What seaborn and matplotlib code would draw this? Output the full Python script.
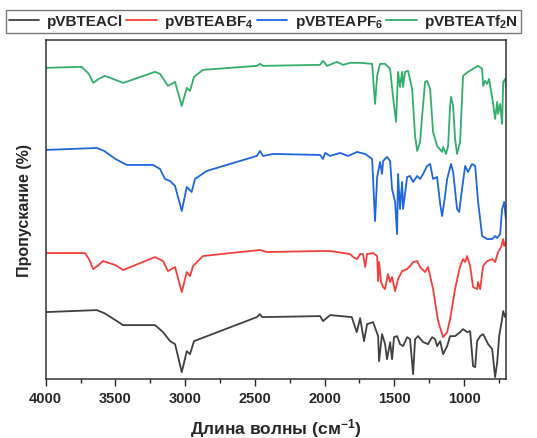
"""FTIR spectra of pVBTEA polymers with different anions (stacked, offset)."""

import matplotlib

matplotlib.use("Agg")
import matplotlib.pyplot as plt
import pandas as pd
import seaborn as sns
from matplotlib.ticker import MultipleLocator

# Wavenumber (cm-1) / transmittance (a.u., offset for stacking)
CL_WN = [4000, 3634, 3580, 3500, 3445, 3216, 3158, 3108, 3072, 3024, 2988, 2965, 2936,
         2486, 2463, 2448, 2032, 2011, 1960, 1805, 1769, 1745, 1717, 1695, 1652, 1616,
         1609, 1588, 1566, 1552, 1530, 1516, 1502, 1480, 1459, 1437, 1408, 1387, 1365,
         1351, 1329, 1293, 1258, 1229, 1207, 1193, 1171, 1150, 1121, 1100, 1064, 1028,
         1007, 978, 956, 935, 920, 906, 884, 863, 827, 798, 777, 762, 748, 727, 719,
         705, 700]
CL_T = [67, 69, 66, 59, 54, 54, 47, 38, 35, 7, 28, 25, 38,
        62, 65, 62, 63, 58, 64, 62, 47, 61, 38, 55, 57, 43,
        18, 45, 35, 20, 37, 20, 42, 43, 35, 33, 42, 40, 5,
        40, 43, 37, 35, 42, 40, 33, 38, 25, 33, 43, 43, 47,
        50, 47, 48, 13, 12, 38, 43, 45, 35, 30, 2, 17, 43, 60, 68,
        62, 65]

BF4_WN = [4000, 3718, 3690, 3659, 3620, 3589, 3500, 3445, 3216, 3158, 3123, 3072, 3024,
          2988, 2965, 2943, 2872, 2606, 2463, 2412, 2032, 1960, 1817, 1795, 1767, 1745,
          1724, 1709, 1695, 1652, 1623, 1616, 1609, 1595, 1580, 1566, 1545, 1530, 1516,
          1494, 1473, 1444, 1408, 1387, 1365, 1336, 1315, 1279, 1258, 1243, 1222, 1186,
          1150, 1121, 1100, 1064, 1028, 1007, 992, 978, 956, 935, 906, 899, 884, 863,
          834, 798, 777, 755, 734, 719, 712, 700]
BF4_T = [126, 126, 120, 110, 114, 118, 114, 109, 122, 118, 108, 112, 87,
         107, 103, 113, 123, 127, 129, 127, 128, 128, 125, 122, 120, 125,
         125, 112, 125, 126, 123, 98, 117, 97, 92, 90, 105, 97, 102,
         88, 100, 108, 110, 113, 117, 118, 112, 107, 112, 103, 90, 58,
         42, 47, 60, 90, 113, 120, 117, 123, 113, 92, 90, 97, 90, 113,
         118, 120, 117, 127, 132, 140, 133, 137]

PF6_WN = [4000, 3634, 3580, 3500, 3419, 3230, 3180, 3144, 3108, 3072, 3024, 2988, 2953,
          2929, 2845, 2486, 2463, 2441, 2369, 2032, 2011, 1996, 1960, 1889, 1831, 1767,
          1709, 1659, 1638, 1623, 1602, 1588, 1580, 1552, 1530, 1516, 1494, 1480, 1473,
          1459, 1444, 1437, 1408, 1387, 1365, 1336, 1315, 1293, 1265, 1243, 1222, 1193,
          1171, 1157, 1136, 1121, 1093, 1078, 1050, 1035, 1014, 992, 971, 942, 920, 899,
          870, 834, 798, 777, 762, 741, 727, 712, 700]
PF6_T = [229, 231, 228, 220, 214, 214, 210, 200, 198, 193, 168, 192, 187,
         200, 208, 223, 228, 223, 225, 224, 220, 226, 223, 226, 223, 227,
         225, 220, 158, 202, 217, 205, 218, 222, 218, 190, 177, 145, 205,
         170, 197, 170, 202, 203, 197, 203, 200, 205, 213, 215, 200, 202,
         175, 163, 183, 200, 215, 207, 170, 167, 190, 213, 207, 215, 213, 177,
         143, 140, 140, 143, 141, 145, 170, 177, 160]

TF2N_WN = [4000, 3742, 3690, 3659, 3620, 3575, 3500, 3443, 3216, 3180, 3123, 3072, 3024,
           2988, 2965, 2936, 2872, 2486, 2463, 2441, 2032, 2011, 1982, 1910, 1867, 1817,
           1745, 1659, 1638, 1623, 1602, 1566, 1530, 1509, 1487, 1473, 1459, 1444, 1437,
           1423, 1401, 1372, 1351, 1336, 1315, 1301, 1279, 1265, 1243, 1222, 1193, 1157,
           1150, 1129, 1114, 1100, 1093, 1078, 1064, 1050, 1028, 1007, 971, 935, 899, 870,
           863, 849, 834, 820, 791, 777, 762, 755, 741, 727, 719, 705, 700]
TF2N_T = [311, 312, 305, 296, 300, 303, 299, 296, 307, 305, 293, 297, 273,
          291, 288, 302, 309, 313, 315, 313, 314, 318, 313, 317, 314, 316,
          316, 315, 275, 303, 315, 315, 310, 282, 257, 307, 292, 307, 292,
          307, 308, 290, 243, 228, 237, 262, 297, 298, 290, 247, 233, 227,
          232, 225, 233, 273, 282, 273, 240, 225, 237, 303, 307, 310, 313, 310,
          293, 298, 295, 300, 275, 260, 277, 265, 275, 255, 297, 300, 293]

SERIES = [
    ("pVBTEACl", CL_WN, CL_T),
    (r"pVBTEABF$_\mathbf{4}$", BF4_WN, BF4_T),
    (r"pVBTEAPF$_\mathbf{6}$", PF6_WN, PF6_T),
    (r"pVBTEATf$_\mathbf{2}$N", TF2N_WN, TF2N_T),
]
COLORS = ["#404040", "#f53d3d", "#1f66dd", "#33ad6b"]


def main():
    sns.set_style("ticks")
    plt.rcParams["font.family"] = ["Liberation Sans", "DejaVu Sans"]
    plt.rcParams["font.weight"] = "bold"
    plt.rcParams["mathtext.fontset"] = "custom"
    plt.rcParams["mathtext.rm"] = "Liberation Sans:bold"
    plt.rcParams["mathtext.bf"] = "Liberation Sans:bold"
    plt.rcParams["mathtext.default"] = "bf"

    frames = []
    for name, wn, t in SERIES:
        frames.append(pd.DataFrame({"wn": wn, "t": t, "sample": name}))
    df = pd.concat(frames, ignore_index=True)

    fig = plt.figure(figsize=(5.37, 4.39), dpi=100)
    ax = fig.add_axes([0.085, 0.134, 0.857, 0.773])

    sns.lineplot(
        data=df,
        x="wn",
        y="t",
        hue="sample",
        palette=COLORS,
        estimator=None,
        linewidth=1.3,
        ax=ax,
    )

    ax.set_xlim(4000, 700)
    ax.set_ylim(0, 339)
    ax.xaxis.set_major_locator(MultipleLocator(500))
    ax.xaxis.set_minor_locator(MultipleLocator(250))
    ax.set_yticks([])
    ax.tick_params(axis="x", which="major", length=5, width=1, labelsize=10.5, direction="out")
    ax.tick_params(axis="x", which="minor", length=3, width=1, direction="out")
    for lab in ax.get_xticklabels():
        lab.set_fontweight("bold")
    for spine in ax.spines.values():
        spine.set_visible(True)
        spine.set_color("#333333")
        spine.set_linewidth(1.1)

    ax.set_xlabel("Длина волны (см$^{-1}$)", fontsize=12.5, fontweight="bold", labelpad=8)
    ax.set_ylabel("Пропускание (%)", fontsize=11.5, fontweight="bold", labelpad=10)

    handles, labels = ax.get_legend_handles_labels()
    ax.legend_.remove()
    fig.legend(
        handles,
        labels,
        loc="upper left",
        bbox_to_anchor=(0.012, 0.975),
        ncol=4,
        frameon=True,
        fancybox=False,
        edgecolor="#555555",
        handlelength=2.0,
        handletextpad=0.5,
        columnspacing=0.2,
        borderpad=0.15,
        borderaxespad=0.0,
        prop={"weight": "bold", "size": 11},
    )

    fig.savefig("out.png", dpi=100)
    plt.close(fig)


if __name__ == "__main__":
    main()
